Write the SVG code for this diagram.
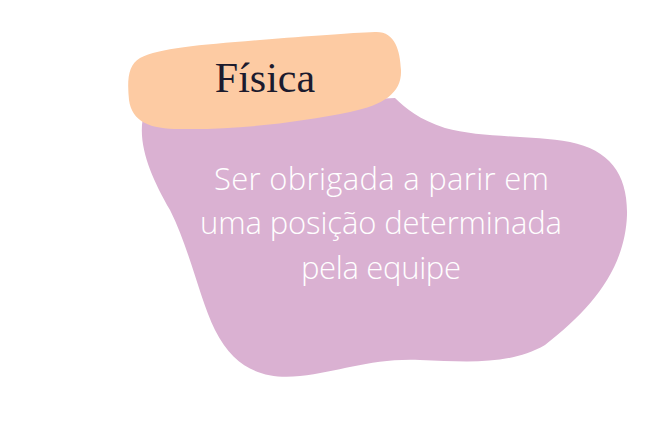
<svg xmlns="http://www.w3.org/2000/svg" width="654" height="425" viewBox="0 0 654 425">
<style>
.blob-purple{fill:#DAB1D2}
.blob-orange{fill:#FDCBA3}
.title{font-family:"Liberation Serif","DejaVu Serif",serif;font-size:42px;fill:#1C1B2E;text-anchor:middle}
.body{font-family:"Open Sans",Lato,"Liberation Sans",sans-serif;font-weight:300;font-size:31px;fill:#FFFFFF;text-anchor:middle}
</style>
<rect width="654" height="425" fill="#FFFFFF"/>
<g id="body-node">
<path class="blob-purple" d="M145,110 C135,140 150,175 170,210 C190,250 200,300 215,330 C235,370 265,380 300,376 C340,372 370,358 420,360 C470,362 510,365 545,345 C590,310 625,270 627,215 C628,175 610,150 570,142 C530,135 480,138 445,128 C420,120 405,108 395,98 Z"/>
<text class="body" x="381.5" y="190" textLength="335" lengthAdjust="spacing">Ser obrigada a parir em</text>
<text class="body" x="381" y="234" textLength="362" lengthAdjust="spacing">uma posição determinada</text>
<text class="body" x="381" y="279" textLength="160" lengthAdjust="spacing">pela equipe</text>
</g>
<g id="title-node">
<path class="blob-orange" d="M140,58 C160,48 200,45 260,40 C310,36 350,33 375,32 C395,31 400,50 401,70 C402,92 385,105 350,112 C300,122 240,130 180,129 C150,129 132,122 129,100 C127,80 128,65 140,58 Z"/>
<text class="title" x="265" y="92">Física</text>
</g>
<g id="connectors"/>
</svg>
